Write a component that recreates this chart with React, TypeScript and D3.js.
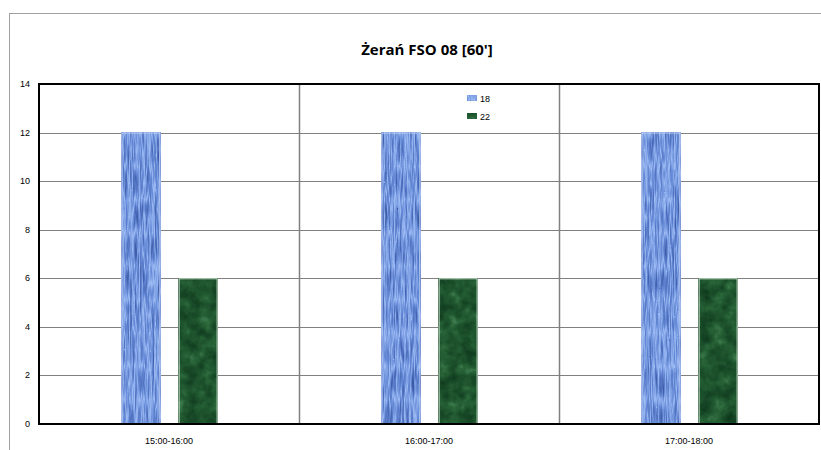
import React from "react";
import * as d3 from "d3";

const categories = ["15:00-16:00", "16:00-17:00", "17:00-18:00"];
const seriesNames = ["18", "22"];
const values18 = [12, 12, 12];
const values22 = [6, 6, 6];
const yTicks = [0, 2, 4, 6, 8, 10, 12, 14];
const title = "Żerań FSO 08 [60']";

const W = 821;
const H = 450;
const plot = { left: 39, right: 819, top: 84, bottom: 424 };

export default function App() {
  const x = d3.scaleBand<string>().domain(categories).range([plot.left, plot.right]);
  const y = d3.scaleLinear().domain([0, 14]).range([plot.bottom, plot.top]);
  const bw = x.bandwidth();
  const barW = bw * 0.15;
  const offs = [bw * 0.317, bw * 0.537];
  const filters = ["url(#fBlue)", "url(#fGreen)"];
  const strokes = ["#b8c8ec", "#cfe3d2"];
  const series = [values18, values22];
  const font = "'Liberation Sans', Arial, sans-serif";

  return (
    <svg width={W} height={H} style={{ position: "absolute", left: 0, top: 0 }}>
      <defs>
        <filter id="fBlue" x="0" y="0" width="1" height="1" filterUnits="objectBoundingBox" colorInterpolationFilters="sRGB">
          <feTurbulence type="turbulence" baseFrequency="0.4 0.03" numOctaves="2" seed="5" />
          <feColorMatrix type="matrix" values="1 0 0 0 0  1 0 0 0 0  1 0 0 0 0  0 0 0 0 1" />
          <feComponentTransfer>
            <feFuncR type="table" tableValues="0.62 0.40 0.26 0.18" />
            <feFuncG type="table" tableValues="0.74 0.54 0.38 0.28" />
            <feFuncB type="table" tableValues="0.96 0.84 0.68 0.56" />
          </feComponentTransfer>
        </filter>
        <filter id="fGreen" x="0" y="0" width="1" height="1" filterUnits="objectBoundingBox" colorInterpolationFilters="sRGB">
          <feTurbulence type="fractalNoise" baseFrequency="0.08" numOctaves="3" seed="2" />
          <feColorMatrix type="matrix" values="0 1 0 0 0  0 1 0 0 0  0 1 0 0 0  0 0 0 0 1" />
          <feComponentTransfer>
            <feFuncR type="table" tableValues="0.04 0.09 0.15 0.30" />
            <feFuncG type="table" tableValues="0.20 0.28 0.38 0.55" />
            <feFuncB type="table" tableValues="0.09 0.15 0.21 0.36" />
          </feComponentTransfer>
        </filter>
      </defs>

      <rect x={9.5} y={13.5} width={W} height={H} fill="white" stroke="#a0a0a0" strokeWidth={1} />

      <text x={427} y={55} textAnchor="middle" fontFamily="'Open Sans', sans-serif" fontWeight="bold" fontSize={15} fill="#000">
        {title}
      </text>

      {yTicks.map((t) => (
        <g key={t}>
          {t > 0 && t < 14 && (
            <line x1={plot.left} x2={plot.right} y1={Math.round(y(t)) + 0.5} y2={Math.round(y(t)) + 0.5} stroke="#808080" strokeWidth={1} />
          )}
          <text x={30} y={y(t) + 3} textAnchor="end" fontFamily={font} fontSize={9} fill="#000">
            {t}
          </text>
        </g>
      ))}

      {categories.slice(1).map((c) => (
        <line key={c} x1={Math.round(x(c)!) + 0.5} x2={Math.round(x(c)!) + 0.5} y1={plot.top} y2={plot.bottom} stroke="#808080" strokeWidth={1.5} />
      ))}

      {series.map((vals, si) =>
        vals.map((v, i) => {
          const bx = x(categories[i])! + offs[si];
          const by = y(v);
          const bh = y(0) - by;
          return (
            <g key={`${si}-${i}`}>
              <rect x={bx} y={by} width={barW} height={bh} fill="#6080c0" filter={filters[si]} />
              <rect x={bx + 0.5} y={by + 0.5} width={barW - 1} height={bh - 1} fill="none" stroke={strokes[si]} strokeWidth={1} />
            </g>
          );
        })
      )}

      <rect x={plot.left} y={plot.top} width={plot.right - plot.left} height={plot.bottom - plot.top} fill="none" stroke="#000" strokeWidth={2} />

      {categories.map((c) => (
        <text key={c} x={x(c)! + bw / 2} y={444} textAnchor="middle" fontFamily={font} fontSize={9} fill="#000">
          {c}
        </text>
      ))}

      {seriesNames.map((s, i) => (
        <g key={s}>
          <rect x={467} y={95 + i * 18} width={10} height={6} filter={filters[i]} fill="#6080c0" />
          <text x={480} y={101.5 + i * 18} fontFamily={font} fontSize={9} fill="#000">
            {s}
          </text>
        </g>
      ))}
    </svg>
  );
}
